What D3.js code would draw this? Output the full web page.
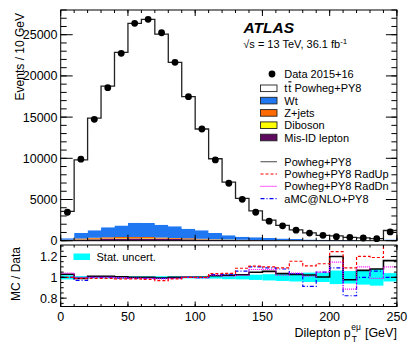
<!DOCTYPE html>
<html>
<head>
<meta charset="utf-8">
<script src="https://cdn.jsdelivr.net/npm/d3@7"></script>
<style>
  body { margin: 0; background: #fff; }
  text { font-family: "Liberation Sans", Arial, sans-serif; fill: #000; }
</style>
</head>
<body>
<div id="chart"></div>
<script>
// bins of 10 GeV, last bin holds overflow
var binEdges = d3.range(0, 251, 10);

// events per bin
var dataEvents = [3450, 9900, 14730, 18570, 22740, 26380, 26870, 25240, 21650, 17480, 13560, 9800, 6970, 5020, 3450, 2370, 1800, 1280, 920, 650, 490, 410, 330, 240, 1070];
var ttbar   = [3254, 8871, 13617, 17136, 20994, 24190, 24720, 23123, 19910, 16020, 12300, 9017, 6459, 4656, 3206, 2175, 1603, 1116, 780, 522, 488, 321, 287, 204, 1091];
var wt      = [190, 675, 915, 1210, 1415, 1735, 1715, 1548, 1400, 1174, 1028, 747, 506, 380, 323, 261, 204, 155, 124, 101, 76, 61, 50, 41, 103];
var zjets   = [40, 90, 120, 140, 150, 150, 140, 120, 100, 80, 60, 45, 35, 25, 20, 15, 12, 10, 8, 6, 5, 4, 3, 3, 10];
var diboson = [10, 25, 35, 40, 45, 45, 45, 42, 40, 36, 32, 28, 24, 20, 17, 14, 12, 10, 8, 7, 6, 5, 4, 4, 12];
var misid   = [60, 140, 190, 230, 250, 260, 250, 230, 200, 170, 140, 110, 85, 65, 50, 40, 32, 25, 20, 16, 13, 10, 8, 7, 25];

// MC / Data ratios
var ratioNominal = [1.03, 0.99, 1.01, 1.01, 1.005, 1.0, 1.0, 0.993, 1.0, 1.0, 1.0, 1.015, 1.02, 1.025, 1.048, 1.057, 1.035, 1.028, 1.022, 1.003, 1.20, 0.977, 1.067, 1.08, 1.16];
var ratioRadUp = [1.0, 0.99, 0.99, 0.99, 0.985, 0.985, 0.98, 0.968, 0.985, 1.0, 1.0, 1.035, 1.037, 1.087, 1.107, 1.10, 1.09, 1.154, 1.11, 1.13, 1.246, 1.09, 1.2, 1.19, 1.40];
var ratioRadDn = [1.04, 1.0, 1.0, 1.0, 0.997, 0.993, 0.99, 0.985, 0.99, 1.0, 0.997, 1.02, 1.01, 1.02, 1.075, 1.075, 1.02, 1.04, 1.01, 1.05, 1.145, 0.887, 1.1, 0.99, 1.1];
var ratioAmc   = [1.0, 0.97, 1.0, 1.0, 0.993, 0.99, 0.99, 0.99, 0.99, 1.0, 0.997, 1.025, 1.028, 1.06, 1.1, 1.09, 1.08, 1.035, 0.913, 1.05, 1.09, 0.823, 1.0, 1.06, 1.0];
var statUnc    = [0.02, 0.012, 0.01, 0.01, 0.01, 0.01, 0.01, 0.01, 0.01, 0.01, 0.012, 0.012, 0.018, 0.02, 0.025, 0.03, 0.035, 0.04, 0.045, 0.045, 0.065, 0.06, 0.07, 0.08, 0.04];

var xTicks = [0, 50, 100, 150, 200, 250];
var yTicksTop = [0, 5000, 10000, 15000, 20000, 25000];
var yTicksRatio = [0.8, 1, 1.2];

var width = 414, height = 353;
var svg = d3.select("#chart").append("svg")
  .attr("width", width).attr("height", height);

var x = d3.scaleLinear().domain([0, 250]).range([60.7, 396.9]);
var yTop = d3.scaleLinear().domain([0, 28000]).range([240.7, 10]);
var yRat = d3.scaleLinear().domain([0.72, 1.31]).range([306.5, 245]);

// step helpers
function stepPoints(vals) {
  var pts = vals.map((v, i) => [binEdges[i], v]);
  pts.push([binEdges[vals.length], vals[vals.length - 1]]);
  return pts;
}

// ---------- upper panel ----------
var keys = ["misid", "diboson", "zjets", "wt", "ttbar"];
var colors = { misid: "#5e0a5e", diboson: "#ffff00", zjets: "#ff6a00", wt: "#1f78f2", ttbar: "#ffffff" };
var rows = binEdges.slice(0, 25).map((e, i) => ({
  edge: e, misid: misid[i], diboson: diboson[i], zjets: zjets[i], wt: wt[i], ttbar: ttbar[i]
}));
rows.push(Object.assign({}, rows[24], { edge: 250 }));
var stacked = d3.stack().keys(keys)(rows);

var area = d3.area()
  .curve(d3.curveStepAfter)
  .x(d => x(d.data.edge))
  .y0(d => yTop(d[0]))
  .y1(d => yTop(d[1]));

var upper = svg.append("g");
upper.selectAll("path.layer").data(stacked).enter().append("path")
  .attr("class", "layer")
  .attr("d", area)
  .attr("fill", d => colors[d.key]);

var totals = rows.slice(0, 25).map(r => r.misid + r.diboson + r.zjets + r.wt + r.ttbar);
var stepTop = d3.line().curve(d3.curveStepAfter).x(d => x(d[0])).y(d => yTop(d[1]));
upper.append("path")
  .attr("d", stepTop(stepPoints(totals)))
  .attr("fill", "none").attr("stroke", "#222").attr("stroke-width", 1.3);

upper.selectAll("circle.data").data(dataEvents).enter().append("circle")
  .attr("cx", (d, i) => x(binEdges[i] + 5))
  .attr("cy", d => yTop(d))
  .attr("r", 3.4)
  .attr("fill", "#000");

// frame + ticks
function frame(g, y0, y1) {
  g.append("rect").attr("x", x(0)).attr("y", y1).attr("width", x(250) - x(0)).attr("height", y0 - y1)
    .attr("fill", "none").attr("stroke", "#000").attr("stroke-width", 1);
}

function ticks(g, scale, vals, orient, len, atPos) {
  vals.forEach(v => {
    var p = scale(v);
    if (orient === "bottom") g.append("line").attr("x1", p).attr("x2", p).attr("y1", atPos).attr("y2", atPos - len);
    if (orient === "top") g.append("line").attr("x1", p).attr("x2", p).attr("y1", atPos).attr("y2", atPos + len);
    if (orient === "left") g.append("line").attr("y1", p).attr("y2", p).attr("x1", atPos).attr("x2", atPos + len);
    if (orient === "right") g.append("line").attr("y1", p).attr("y2", p).attr("x1", atPos).attr("x2", atPos - len);
  });
  g.selectAll("line").attr("stroke", "#000").attr("stroke-width", 1);
}

var tg = svg.append("g");
frame(tg, 240.7, 10);
var xMinor = d3.range(0, 251, 10), xMajor = xTicks;
ticks(tg, x, xMinor, "bottom", 3, 240.7);
ticks(tg, x, xMajor, "bottom", 6, 240.7);
ticks(tg, x, xMinor, "top", 3, 10);
ticks(tg, x, xMajor, "top", 6, 10);
var yMinorTop = d3.range(0, 28001, 1000);
ticks(tg, yTop, yMinorTop, "left", 6, x(0));
ticks(tg, yTop, yTicksTop, "left", 12, x(0));
ticks(tg, yTop, yMinorTop, "right", 5.5, x(250));
ticks(tg, yTop, yTicksTop, "right", 11, x(250));

svg.append("g").selectAll("text").data(yTicksTop).enter().append("text")
  .attr("x", 57.5).attr("y", d => yTop(d) + 4.5)
  .attr("text-anchor", "end").attr("font-size", 12.5)
  .text(d => d);

svg.append("text")
  .attr("transform", "translate(24,13) rotate(-90)")
  .attr("text-anchor", "end").attr("font-size", 12)
  .text("Events / 10 GeV");

// ---------- ratio panel ----------
var rg = svg.append("g");
svg.append("clipPath").attr("id", "ratioClip").append("rect")
  .attr("x", x(0)).attr("y", 245).attr("width", x(250) - x(0)).attr("height", 61.5);
var rc = rg.append("g").attr("clip-path", "url(#ratioClip)");

rc.selectAll("rect.band").data(statUnc).enter().append("rect")
  .attr("x", (d, i) => x(binEdges[i]))
  .attr("width", (d, i) => x(binEdges[i + 1]) - x(binEdges[i]))
  .attr("y", d => yRat(1 + d))
  .attr("height", d => yRat(1 - d) - yRat(1 + d))
  .attr("fill", "#00ffff");

var stepRat = d3.line().curve(d3.curveStepAfter).x(d => x(d[0])).y(d => yRat(d[1]));
rc.append("path").attr("d", stepRat(stepPoints(ratioNominal)))
  .attr("fill", "none").attr("stroke", "#000").attr("stroke-width", 1.6);
rc.append("path").attr("d", stepRat(stepPoints(ratioAmc)))
  .attr("fill", "none").attr("stroke", "#0000ff").attr("stroke-width", 1.2).attr("stroke-dasharray", "4,2,1,2");
rc.append("path").attr("d", stepRat(stepPoints(ratioRadDn)))
  .attr("fill", "none").attr("stroke", "#ff00ff").attr("stroke-width", 1.2).attr("stroke-dasharray", "1,1");
rc.append("path").attr("d", stepRat(stepPoints(ratioRadUp)))
  .attr("fill", "none").attr("stroke", "#ff0000").attr("stroke-width", 1.2).attr("stroke-dasharray", "3,2");

var rf = svg.append("g");
frame(rf, 306.5, 245);
ticks(rf, x, xMinor, "bottom", 2.5, 306.5);
ticks(rf, x, xMajor, "bottom", 5, 306.5);
ticks(rf, x, xMinor, "top", 2.5, 245);
ticks(rf, x, xMajor, "top", 5, 245);
var yMinorRat = d3.range(0.75, 1.31, 0.05);
ticks(rf, yRat, yMinorRat, "left", 3, x(0));
ticks(rf, yRat, yTicksRatio, "left", 6, x(0));
ticks(rf, yRat, yMinorRat, "right", 3, x(250));
ticks(rf, yRat, yTicksRatio, "right", 6, x(250));

svg.append("g").selectAll("text").data(yTicksRatio).enter().append("text")
  .attr("x", 57.5).attr("y", d => yRat(d) + 4.5)
  .attr("text-anchor", "end").attr("font-size", 12.5)
  .text(d => d);

svg.append("g").selectAll("text").data(xTicks).enter().append("text")
  .attr("x", d => x(d)).attr("y", 321)
  .attr("text-anchor", "middle").attr("font-size", 12.5)
  .text(d => d);

svg.append("text")
  .attr("transform", "translate(19.5,274) rotate(-90)")
  .attr("text-anchor", "middle").attr("font-size", 12)
  .text("MC / Data");

rg.append("rect").attr("x", 73.5).attr("y", 253.5).attr("width", 16.5).attr("height", 6.5).attr("fill", "#00ffff");
rg.append("text").attr("x", 96.5).attr("y", 261).attr("font-size", 11).text("Stat. uncert.");

// x axis title, laid out from the right edge
var titleY = 337;
var gev = svg.append("text").attr("x", 396.9).attr("y", titleY).attr("text-anchor", "end").attr("font-size", 12.5).text("[GeV]");
var gevW = gev.node().getComputedTextLength();
var supX = 396.9 - gevW - 4;
var sup = svg.append("text").attr("x", supX).attr("y", titleY - 7).attr("text-anchor", "end").attr("font-size", 8.5).text("eμ");
var supW = sup.node().getComputedTextLength();
var subX = supX - supW;
svg.append("text").attr("x", subX + 0.5).attr("y", titleY + 4.5).attr("font-size", 8.5).text("T");
svg.append("text").attr("x", subX - 0.5).attr("y", titleY).attr("text-anchor", "end").attr("font-size", 12.5).text("Dilepton p");

// ---------- labels & legend ----------
svg.append("text").attr("x", 243.5).attr("y", 32.8)
  .attr("font-size", 15.5).attr("font-weight", "bold").attr("font-style", "italic").text("ATLAS");
var lum = svg.append("text").attr("x", 243.3).attr("y", 48.3).attr("font-size", 11);
lum.append("tspan").text("√s = 13 TeV, 36.1 fb");
lum.append("tspan").attr("font-size", 8).attr("dy", -4.5).text("-1");

var lg = svg.append("g");
lg.append("circle").attr("cx", 272).attr("cy", 74).attr("r", 3.4).attr("fill", "#000");
lg.append("text").attr("x", 284.3).attr("y", 78).attr("font-size", 11).text("Data 2015+16");

var boxEntries = [
  { key: "ttbar", label: "Powheg+PY8", tt: true },
  { key: "wt", label: "Wt" },
  { key: "zjets", label: "Z+jets" },
  { key: "diboson", label: "Diboson" },
  { key: "misid", label: "Mis-ID lepton" }
];
boxEntries.forEach((e, k) => {
  var cy = 88.3 + 12.3 * k;
  lg.append("rect").attr("x", 260.5).attr("y", cy - 3.3).attr("width", 16.5).attr("height", 6.6)
    .attr("fill", colors[e.key]).attr("stroke", "#222").attr("stroke-width", 0.9);
  var t = lg.append("text").attr("x", 284.3).attr("y", cy + 4).attr("font-size", 11);
  if (e.tt) {
    t.append("tspan").text("t");
    t.append("tspan").attr("dx", 1).attr("text-decoration", "overline").text("t");
    t.append("tspan").text(" " + e.label);
  } else {
    t.text(e.label);
  }
});

var lineEntries = [
  { label: "Powheg+PY8", color: "#666", dash: null },
  { label: "Powheg+PY8 RadUp", color: "#ff0000", dash: "3,2" },
  { label: "Powheg+PY8 RadDn", color: "#ff00ff", dash: "1,1" },
  { label: "aMC@NLO+PY8", color: "#0000ff", dash: "4,2,1,2" }
];
lineEntries.forEach((e, k) => {
  var cy = 161.7 + 12.3 * k;
  lg.append("line").attr("x1", 260.5).attr("x2", 277).attr("y1", cy).attr("y2", cy)
    .attr("stroke", e.color).attr("stroke-width", 1.2).attr("stroke-dasharray", e.dash);
  lg.append("text").attr("x", 284.3).attr("y", cy + 4).attr("font-size", 11).text(e.label);
});
</script>
</body>
</html>
